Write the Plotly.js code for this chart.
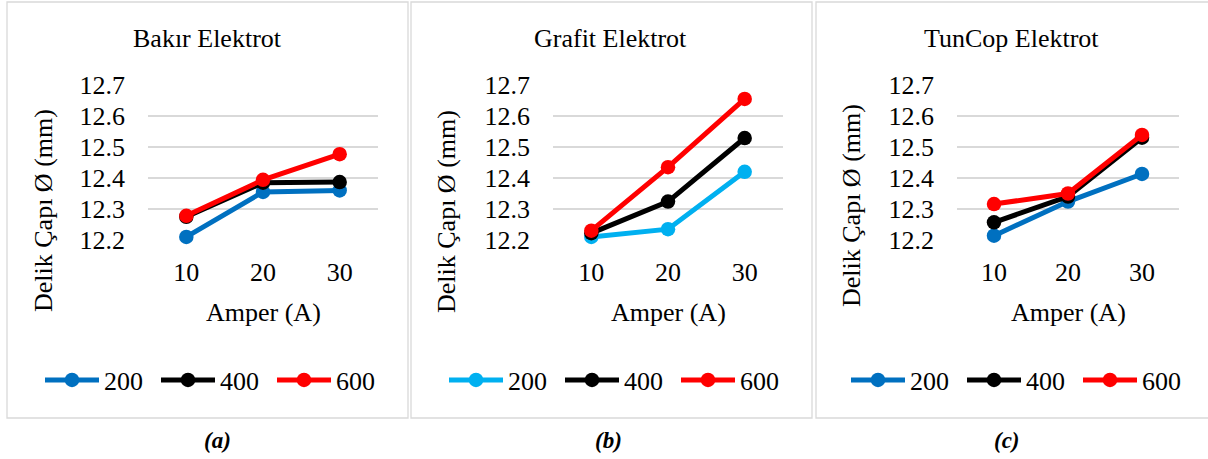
<!DOCTYPE html>
<html>
<head>
<meta charset="utf-8">
<script src="https://cdn.plot.ly/plotly-3.0.1.min.js"></script>
<style>html,body{margin:0;padding:0;background:#fff;}#chart{width:1208px;height:459px;}</style>
</head>
<body>
<div id="chart"></div>
<script>
// ---- data ----
const amper = ['10', '20', '30'];
const speeds = ['200', '400', '600'];
const panelTitles = ['Bakır Elektrot', 'Grafit Elektrot', 'TunCop Elektrot'];
const panelLabels = ['(a)', '(b)', '(c)'];
const yTicks = [12.2, 12.3, 12.4, 12.5, 12.6, 12.7];
const yTickText = ['12.2', '12.3', '12.4', '12.5', '12.6', '12.7'];

const bakir200 = [12.21, 12.355, 12.36];
const bakir400 = [12.275, 12.385, 12.387];
const bakir600 = [12.278, 12.394, 12.477];

const grafit200 = [12.21, 12.235, 12.42];
const grafit400 = [12.222, 12.324, 12.529];
const grafit600 = [12.23, 12.435, 12.655];

const tuncop200 = [12.214, 12.324, 12.413];
const tuncop400 = [12.257, 12.34, 12.53];
const tuncop600 = [12.316, 12.35, 12.539];

// ---- layout helpers ----
const W = 1208, H = 459;
const fx = p => p / W;
const fy = p => 1 - p / H;
const FONT = '"Liberation Serif", "Times New Roman", serif';

const panelData = [
  [bakir200, bakir400, bakir600],
  [grafit200, grafit400, grafit600],
  [tuncop200, tuncop400, tuncop600]
];
const colorSets = [
  ['#0070C0', '#000000', '#FF0000'],
  ['#00B0F0', '#000000', '#FF0000'],
  ['#0070C0', '#000000', '#FF0000']
];
// pixel geometry per panel
const plotX = [[148, 378], [553, 783], [957, 1179]];
const plotY = [85, 240];
const boxX = [[7, 408], [411, 812], [816, 1212]];
const boxY = [2, 418];
const titleX = [207.5, 611, 1012];
const yTitleX = [43, 446, 851];
const yTitleY = [211, 212, 206];
const legendX = [40, 444, 846];
const labelX = [217, 608, 1007];

const traces = [];
const layout = {
  width: W, height: H,
  margin: {l: 0, r: 0, t: 0, b: 0, pad: 0, autoexpand: false},
  paper_bgcolor: '#ffffff',
  plot_bgcolor: 'rgba(0,0,0,0)',
  font: {family: FONT, size: 26, color: '#000000'},
  showlegend: true,
  shapes: [],
  annotations: []
};

for (let p = 0; p < 3; p++) {
  const sfx = p === 0 ? '' : String(p + 1);
  const legName = 'legend' + sfx;
  for (let s = 0; s < 3; s++) {
    traces.push({
      type: 'scatter',
      mode: 'lines+markers',
      name: speeds[s],
      x: amper,
      y: panelData[p][s],
      xaxis: 'x' + sfx,
      yaxis: 'y' + sfx,
      legend: legName,
      cliponaxis: false,
      line: {color: colorSets[p][s], width: 5},
      marker: {color: colorSets[p][s], size: 14.5},
      hoverinfo: 'skip'
    });
  }
  layout['xaxis' + sfx] = {
    domain: [fx(plotX[p][0]), fx(plotX[p][1])],
    anchor: 'y' + sfx,
    type: 'category',
    range: [-0.5, 2.5],
    showgrid: false,
    zeroline: false,
    showline: false,
    ticks: '',
    ticklabelstandoff: 14,
    tickfont: {family: FONT, size: 26, color: '#000'},
    automargin: false,
    fixedrange: true
  };
  layout['yaxis' + sfx] = {
    domain: [fy(plotY[1]), fy(plotY[0])],
    anchor: 'x' + sfx,
    range: [12.2, 12.7],
    tickvals: yTicks,
    ticktext: yTickText,
    showgrid: true,
    gridcolor: '#d9d9d9',
    gridwidth: 1.5,
    zeroline: false,
    showline: false,
    ticks: '',
    ticklabelstandoff: 22,
    tickfont: {family: FONT, size: 26, color: '#000'},
    automargin: false,
    fixedrange: true
  };
  layout[legName] = {
    orientation: 'h',
    x: fx(legendX[p]), xanchor: 'left',
    y: fy(380), yanchor: 'middle',
    bgcolor: 'rgba(0,0,0,0)',
    font: {family: FONT, size: 26, color: '#000'},
    itemwidth: 54,
    entrywidth: 47,
    entrywidthmode: 'pixels',
    traceorder: 'normal',
    itemclick: false, itemdoubleclick: false
  };
  layout.shapes.push({
    type: 'rect', xref: 'paper', yref: 'paper',
    x0: fx(boxX[p][0]), x1: fx(boxX[p][1]),
    y0: fy(boxY[1]), y1: fy(boxY[0]),
    line: {color: '#d9d9d9', width: 1.3},
    fillcolor: 'rgba(0,0,0,0)', layer: 'below'
  });
  layout.annotations.push({
    xref: 'paper', yref: 'paper', x: fx(titleX[p]), y: fy(38),
    xanchor: 'center', yanchor: 'middle', showarrow: false,
    text: panelTitles[p], font: {family: FONT, size: 26, color: '#000'}
  });
  layout.annotations.push({
    xref: 'paper', yref: 'paper', x: fx(yTitleX[p]), y: fy(yTitleY[p]),
    xanchor: 'center', yanchor: 'middle', showarrow: false, textangle: -90,
    text: 'Delik Çapı Ø (mm)', font: {family: FONT, size: 26, color: '#000'}
  });
  layout.annotations.push({
    xref: 'paper', yref: 'paper', x: fx((plotX[p][0] + plotX[p][1]) / 2), y: fy(312),
    xanchor: 'center', yanchor: 'middle', showarrow: false,
    text: 'Amper (A)', font: {family: FONT, size: 26, color: '#000'}
  });
  layout.annotations.push({
    xref: 'paper', yref: 'paper', x: fx(labelX[p]), y: fy(440),
    xanchor: 'center', yanchor: 'middle', showarrow: false,
    text: '<b><i>' + panelLabels[p] + '</i></b>', font: {family: FONT, size: 23, color: '#000'}
  });
}

Plotly.newPlot('chart', traces, layout, {staticPlot: true, displayModeBar: false});
</script>
</body>
</html>
